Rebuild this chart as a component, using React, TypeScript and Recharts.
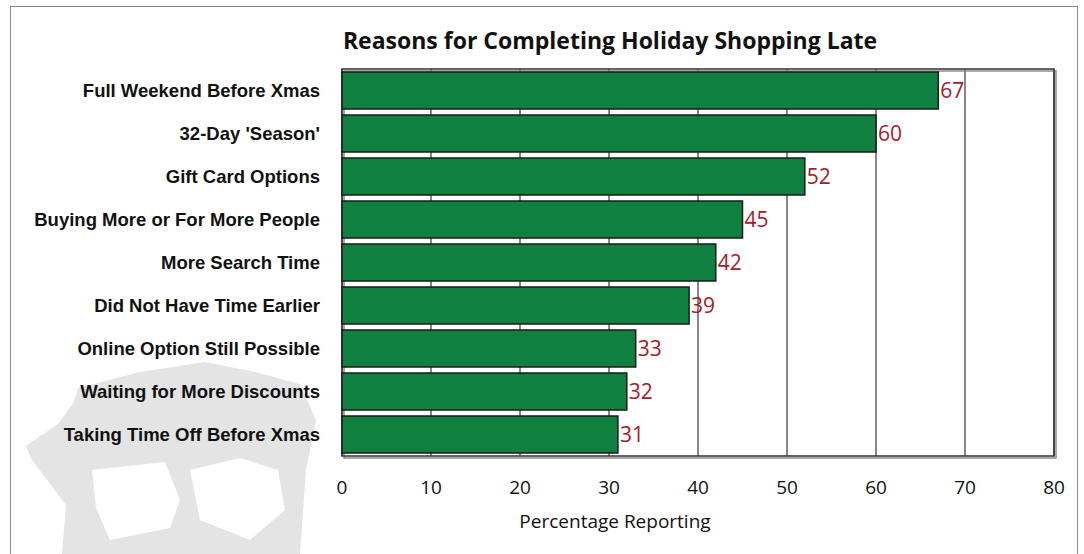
import { Bar, BarChart, CartesianGrid, LabelList, ReferenceArea, XAxis, YAxis } from 'recharts'

const reasons = [
  'Full Weekend Before Xmas',
  "32-Day 'Season'",
  'Gift Card Options',
  'Buying More or For More People',
  'More Search Time',
  'Did Not Have Time Earlier',
  'Online Option Still Possible',
  'Waiting for More Discounts',
  'Taking Time Off Before Xmas',
]
const percentages = [67, 60, 52, 45, 42, 39, 33, 32, 31]
const xTicks = [0, 10, 20, 30, 40, 50, 60, 70, 80]

const data = reasons.map((reason, i) => ({ reason, pct: percentages[i] }))

const gill = '"Open Sans", "Noto Sans", sans-serif'

// plot frame with the little drop shadow on the right/bottom
const Frame = (props: any) => {
  const { x, y, width, height } = props
  return (
    <g>
      <rect x={x + 2} y={y + 2} width={width} height={height} fill="none" stroke="#8c8c8c" strokeWidth={1.5} />
      <rect x={x} y={y} width={width} height={height} fill="none" stroke="#333" strokeWidth={1.5} />
    </g>
  )
}

// faint logo watermark behind the labels (rough)
function Watermark() {
  return (
    <svg width={1084} height={554} style={{ position: 'absolute', left: 0, top: 0 }}>
      <path
        fillRule="evenodd"
        fill="#e4e4e4"
        d="M78 388 L140 372 L205 362 L255 372 L300 384 L316 420 L306 470 L300 554 L62 554 L66 505 L32 460 L26 446 L58 424 L74 402 Z
           M92 470 L165 462 L180 500 L170 528 L110 540 L96 508 Z
           M190 470 L240 458 L278 470 L285 510 L250 540 L200 520 Z"
      />
    </svg>
  )
}

function App() {
  return (
    <div style={{ position: 'absolute', left: 0, top: 0, width: 1084, height: 554, background: '#fff', overflow: 'hidden' }}>
      <Watermark />
      <div
        style={{
          position: 'absolute',
          left: 10,
          top: 6,
          width: 1068,
          height: 560,
          border: '1px solid #8a8a8a',
          boxSizing: 'border-box',
        }}
      />
      <div
        style={{
          position: 'absolute',
          top: 25,
          left: 310,
          width: 600,
          textAlign: 'center',
          fontFamily: gill,
          fontWeight: 700,
          fontSize: 23,
          lineHeight: '30px',
          color: '#111',
        }}
      >
        Reasons for Completing Holiday Shopping Late
      </div>
      <div
        style={{
          position: 'absolute',
          top: 507,
          left: 465,
          width: 300,
          textAlign: 'center',
          fontFamily: gill,
          fontSize: 19,
          lineHeight: '28px',
          color: '#111',
        }}
      >
        Percentage Reporting
      </div>
      <BarChart
        width={1084}
        height={554}
        data={data}
        layout="vertical"
        margin={{ top: 69, right: 30, left: 10, bottom: 0 }}
        barCategoryGap={3}
        style={{ position: 'absolute', left: 0, top: 0 }}
      >
        <CartesianGrid horizontal={false} vertical stroke="#111" strokeWidth={1} />
        <XAxis
          type="number"
          domain={[0, 80]}
          ticks={xTicks}
          axisLine={false}
          tickLine={false}
          tickMargin={19}
          tick={{ fontSize: 19, fill: '#111', fontFamily: gill }}
          height={98}
        />
        <YAxis
          type="category"
          dataKey="reason"
          width={332}
          axisLine={false}
          tickLine={false}
          tickMargin={16}
          tick={{ fontSize: 18.5, fill: '#111', fontWeight: 700, fontFamily: '"Liberation Sans", Arial, sans-serif' }}
        />
        <ReferenceArea x1={0} x2={80} shape={Frame} />
        <Bar dataKey="pct" fill="#0f8040" stroke="#1a1a1a" strokeWidth={1.5} isAnimationActive={false}>
          <LabelList
            dataKey="pct"
            position="right"
            offset={2}
            style={{ fontSize: 21, fill: '#a3202a', fontFamily: gill }}
          />
        </Bar>
      </BarChart>
    </div>
  )
}

export default App
